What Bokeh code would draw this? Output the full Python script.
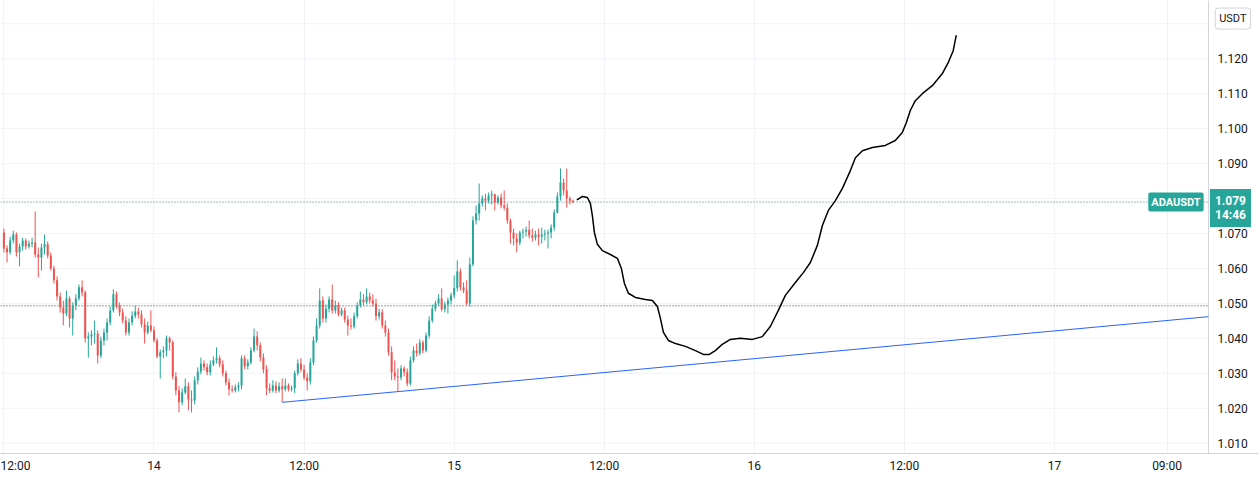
from bokeh.plotting import figure
from bokeh.models import Range1d, FixedTicker, Label, NumeralTickFormatter, ColumnDataSource
from bokeh.embed import file_html
from bokeh.resources import INLINE

# ---------------- data (15-minute candles, hours since the 14th 00:00) ----------------
first_open = 1.0703
start_hour = -12.0
bar_hours = 0.25

close = [
    1.0657, 1.0646, 1.0680, 1.0697, 1.0646, 1.0663, 1.0680, 1.0663, 1.0671, 1.0674,
    1.0640, 1.0631, 1.0660, 1.0669, 1.0637, 1.0600, 1.0566, 1.0520, 1.0488, 1.0471,
    1.0514, 1.0457, 1.0494, 1.0514, 1.0546, 1.0531, 1.0400, 1.0405, 1.0411, 1.0414,
    1.0351, 1.0394, 1.0417, 1.0445, 1.0480, 1.0526, 1.0494, 1.0474, 1.0451, 1.0417,
    1.0445, 1.0465, 1.0477, 1.0468, 1.0440, 1.0417, 1.0437, 1.0423, 1.0394, 1.0348,
    1.0360, 1.0365, 1.0400, 1.0388, 1.0291, 1.0251, 1.0217, 1.0245, 1.0263, 1.0225,
    1.0222, 1.0280, 1.0305, 1.0328, 1.0317, 1.0303, 1.0325, 1.0337, 1.0343, 1.0325,
    1.0300, 1.0274, 1.0254, 1.0251, 1.0260, 1.0265, 1.0343, 1.0320, 1.0331, 1.0365,
    1.0405, 1.0380, 1.0345, 1.0311, 1.0257, 1.0251, 1.0265, 1.0251, 1.0263, 1.0254,
    1.0265, 1.0254, 1.0257, 1.0300, 1.0328, 1.0311, 1.0288, 1.0277, 1.0331, 1.0394,
    1.0437, 1.0508, 1.0457, 1.0485, 1.0511, 1.0480, 1.0494, 1.0468, 1.0480, 1.0454,
    1.0437, 1.0434, 1.0463, 1.0494, 1.0511, 1.0503, 1.0520, 1.0508, 1.0500, 1.0463,
    1.0474, 1.0437, 1.0417, 1.0360, 1.0303, 1.0291, 1.0288, 1.0314, 1.0303, 1.0271,
    1.0337, 1.0365, 1.0357, 1.0388, 1.0365, 1.0408, 1.0451, 1.0485, 1.0500, 1.0514,
    1.0483, 1.0497, 1.0508, 1.0523, 1.0543, 1.0591, 1.0546, 1.0537, 1.0500, 1.0611,
    1.0737, 1.0757, 1.0786, 1.0800, 1.0794, 1.0809, 1.0812, 1.0789, 1.0803, 1.0780,
    1.0774, 1.0737, 1.0703, 1.0686, 1.0674, 1.0703, 1.0706, 1.0711, 1.0694, 1.0688,
    1.0697, 1.0691, 1.0697, 1.0700, 1.0703, 1.0717, 1.0760, 1.0806, 1.0846, 1.0823,
    1.0800, 1.0794, 1.0790,
]
high = [
    1.0714, 1.0666, 1.0691, 1.0708, 1.0703, 1.0671, 1.0688, 1.0686, 1.0680, 1.0688,
    1.0763, 1.0660, 1.0671, 1.0697, 1.0677, 1.0646, 1.0608, 1.0577, 1.0531, 1.0508,
    1.0537, 1.0520, 1.0503, 1.0526, 1.0554, 1.0566, 1.0537, 1.0417, 1.0423, 1.0451,
    1.0423, 1.0405, 1.0428, 1.0457, 1.0491, 1.0540, 1.0534, 1.0503, 1.0485, 1.0463,
    1.0457, 1.0477, 1.0494, 1.0488, 1.0480, 1.0457, 1.0448, 1.0480, 1.0434, 1.0400,
    1.0368, 1.0377, 1.0408, 1.0405, 1.0394, 1.0303, 1.0263, 1.0257, 1.0285, 1.0274,
    1.0251, 1.0291, 1.0317, 1.0345, 1.0337, 1.0328, 1.0337, 1.0348, 1.0374, 1.0351,
    1.0337, 1.0308, 1.0285, 1.0265, 1.0268, 1.0274, 1.0351, 1.0351, 1.0340, 1.0374,
    1.0428, 1.0420, 1.0388, 1.0357, 1.0323, 1.0271, 1.0280, 1.0277, 1.0274, 1.0285,
    1.0285, 1.0271, 1.0265, 1.0308, 1.0340, 1.0343, 1.0325, 1.0300, 1.0343, 1.0405,
    1.0457, 1.0543, 1.0520, 1.0497, 1.0520, 1.0554, 1.0508, 1.0503, 1.0488, 1.0488,
    1.0465, 1.0457, 1.0474, 1.0503, 1.0534, 1.0526, 1.0543, 1.0531, 1.0526, 1.0514,
    1.0485, 1.0483, 1.0451, 1.0428, 1.0377, 1.0337, 1.0314, 1.0323, 1.0320, 1.0314,
    1.0348, 1.0377, 1.0385, 1.0397, 1.0394, 1.0417, 1.0463, 1.0497, 1.0508, 1.0526,
    1.0543, 1.0505, 1.0517, 1.0531, 1.0580, 1.0623, 1.0600, 1.0560, 1.0566, 1.0631,
    1.0749, 1.0780, 1.0843, 1.0809, 1.0814, 1.0817, 1.0823, 1.0814, 1.0809, 1.0814,
    1.0823, 1.0786, 1.0743, 1.0714, 1.0700, 1.0708, 1.0714, 1.0720, 1.0737, 1.0714,
    1.0708, 1.0714, 1.0717, 1.0711, 1.0711, 1.0726, 1.0769, 1.0817, 1.0886, 1.0857,
    1.0886, 1.0806, 1.0797,
]
low = [
    1.0646, 1.0617, 1.0640, 1.0671, 1.0634, 1.0606, 1.0651, 1.0654, 1.0657, 1.0660,
    1.0631, 1.0574, 1.0594, 1.0640, 1.0629, 1.0594, 1.0557, 1.0508, 1.0474, 1.0437,
    1.0463, 1.0431, 1.0408, 1.0480, 1.0508, 1.0520, 1.0388, 1.0345, 1.0380, 1.0385,
    1.0328, 1.0343, 1.0380, 1.0394, 1.0437, 1.0474, 1.0485, 1.0463, 1.0443, 1.0408,
    1.0408, 1.0437, 1.0457, 1.0457, 1.0431, 1.0385, 1.0411, 1.0417, 1.0388, 1.0343,
    1.0285, 1.0343, 1.0348, 1.0365, 1.0283, 1.0237, 1.0188, 1.0208, 1.0240, 1.0194,
    1.0188, 1.0211, 1.0268, 1.0297, 1.0308, 1.0294, 1.0294, 1.0320, 1.0328, 1.0317,
    1.0291, 1.0265, 1.0237, 1.0245, 1.0245, 1.0248, 1.0254, 1.0311, 1.0311, 1.0325,
    1.0360, 1.0365, 1.0334, 1.0300, 1.0237, 1.0243, 1.0245, 1.0243, 1.0245, 1.0217,
    1.0248, 1.0248, 1.0248, 1.0243, 1.0294, 1.0303, 1.0280, 1.0251, 1.0268, 1.0323,
    1.0388, 1.0428, 1.0445, 1.0445, 1.0474, 1.0471, 1.0471, 1.0463, 1.0463, 1.0445,
    1.0408, 1.0425, 1.0428, 1.0457, 1.0488, 1.0494, 1.0497, 1.0500, 1.0491, 1.0451,
    1.0454, 1.0428, 1.0405, 1.0351, 1.0280, 1.0280, 1.0248, 1.0280, 1.0291, 1.0263,
    1.0265, 1.0331, 1.0348, 1.0351, 1.0357, 1.0360, 1.0400, 1.0445, 1.0477, 1.0494,
    1.0477, 1.0474, 1.0471, 1.0497, 1.0514, 1.0534, 1.0537, 1.0529, 1.0494, 1.0491,
    1.0606, 1.0726, 1.0737, 1.0777, 1.0766, 1.0786, 1.0783, 1.0766, 1.0783, 1.0772,
    1.0766, 1.0728, 1.0671, 1.0666, 1.0646, 1.0666, 1.0686, 1.0691, 1.0686, 1.0677,
    1.0680, 1.0666, 1.0671, 1.0680, 1.0657, 1.0686, 1.0708, 1.0757, 1.0794, 1.0809,
    1.0774, 1.0783, 1.0786,
]

# hand-drawn projection path
path_hours = [33.85, 34.25, 34.65, 34.89, 35.05, 35.21, 35.45, 35.85, 36.49, 37.05,
              37.37, 37.61, 37.93, 38.49, 39.29, 39.85, 40.25, 40.49, 40.73, 41.13,
              41.69, 42.49, 43.29, 43.92, 44.40, 44.88, 45.44, 46.08, 46.88, 47.84,
              48.64, 49.28, 49.92, 50.48, 51.28, 51.92, 52.48, 53.04, 53.44, 53.92,
              54.48, 55.04, 55.68, 56.08, 56.64, 57.44, 58.47, 59.27, 59.83, 60.15,
              60.47, 60.87, 61.43, 62.23, 63.02, 63.50, 63.90, 64.14]
path_prices = [1.0797, 1.0806, 1.0803, 1.0786, 1.0751, 1.0703, 1.0669, 1.0651, 1.0640, 1.0629,
               1.0600, 1.0557, 1.0529, 1.0517, 1.0511, 1.0508, 1.0491, 1.0457, 1.0417, 1.0394,
               1.0385, 1.0377, 1.0365, 1.0354, 1.0354, 1.0365, 1.0383, 1.0397, 1.0400, 1.0397,
               1.0405, 1.0434, 1.0480, 1.0523, 1.0560, 1.0588, 1.0617, 1.0666, 1.0723, 1.0766,
               1.0794, 1.0829, 1.0880, 1.0917, 1.0937, 1.0946, 1.0952, 1.0966, 1.0989, 1.1017,
               1.1052, 1.1080, 1.1100, 1.1123, 1.1157, 1.1189, 1.1223, 1.1266]

# trend line
trend_hours = [10.25, 84.3]
trend_prices = [1.0217, 1.0462]

# horizontal level
level_price = 1.0493

# axes
x_ticks = [-12, 0, 12, 24, 36, 48, 60, 72, 81]
x_labels = ["12:00", "14", "12:00", "15", "12:00", "16", "12:00", "17", "09:00"]
y_ticks = [1.01, 1.02, 1.03, 1.04, 1.05, 1.06, 1.07, 1.08, 1.09, 1.10, 1.11, 1.12, 1.13]

symbol = "ADAUSDT"
currency = "USDT"
countdown = "14:46"

# ---------------- build ----------------
UP = "#26a69a"
DOWN = "#ef5350"
TEXT = "#131722"
GRID = "#f0f3fa"
FONT = "Roboto"

n = len(close)
hours = [start_hour + bar_hours * i for i in range(n)]
opens = [first_open] + close[:-1]
colors = [UP if c >= o else DOWN for o, c in zip(opens, close)]
src = ColumnDataSource(dict(
    x=hours, o=opens, c=close, h=high, l=low,
    top=[max(o, c) for o, c in zip(opens, close)],
    bot=[min(o, c) for o, c in zip(opens, close)],
    color=colors,
))

# chart pane spans x_start..pane_end; the price scale occupies pane_end..x_end
x_start, pane_end, x_end = -12.273, 84.31, 88.31
y_start, y_end = 1.00705, 1.13667

p = figure(width=1260, height=479, output_backend="svg", toolbar_location=None,
           x_range=Range1d(x_start, x_end), y_range=Range1d(y_start, y_end),
           y_axis_location="right",
           min_border_left=0, min_border_top=0, min_border_right=2, min_border_bottom=26,
           background_fill_color="white", border_fill_color="white",
           outline_line_color=None)

# grid: vertical via the grid model, horizontal stops at the price scale
p.xgrid.ticker = FixedTicker(ticks=x_ticks)
p.xgrid.grid_line_color = GRID
p.ygrid.grid_line_color = None
p.segment(x0=[x_start] * len(y_ticks), x1=[pane_end] * len(y_ticks), y0=y_ticks, y1=y_ticks,
          line_color=GRID, line_width=1)
# price scale separator
p.segment(x0=[pane_end], x1=[pane_end], y0=[y_start], y1=[y_end],
          line_color="#d1d4dc", line_width=1)

# axes
p.xaxis.ticker = FixedTicker(ticks=x_ticks)
p.xaxis.major_label_overrides = {t: l for t, l in zip(x_ticks, x_labels)}
p.yaxis.ticker = FixedTicker(ticks=y_ticks)
p.yaxis.formatter = NumeralTickFormatter(format="0.000")
for ax in (p.xaxis, p.yaxis):
    ax.major_tick_line_color = None
    ax.minor_tick_line_color = None
    ax.major_tick_out = 0
    ax.major_tick_in = 0
    ax.minor_tick_out = 0
    ax.minor_tick_in = 0
    ax.major_label_text_font = FONT
    ax.major_label_text_font_size = "12px"
    ax.major_label_text_color = TEXT
p.xaxis.axis_line_color = "#d1d4dc"
p.yaxis.axis_line_color = None
p.xaxis.major_label_standoff = 5
p.yaxis.major_label_standoff = -41

# dotted levels
p.segment(x0=[x_start], x1=[pane_end], y0=[close[-1]], y1=[close[-1]],
          line_color="#3f7f78", line_dash="1 2", line_width=1)
p.segment(x0=[x_start], x1=[pane_end], y0=[level_price], y1=[level_price],
          line_color="#363a45", line_dash="1 2", line_width=1)

# candles
p.segment(x0="x", y0="h", x1="x", y1="l", color="color", line_width=1, source=src)
p.vbar(x="x", width=0.16, top="top", bottom="bot", fill_color="color",
       line_color=None, source=src)

# trend line and projection
p.line(trend_hours, trend_prices, line_color="#2962ff", line_width=1)
p.line(path_hours, path_prices, line_color="#000000", line_width=1.5,
       line_join="round", line_cap="round")

# labels
p.add_layout(Label(x=pane_end - 2.6, y=close[-1], text=symbol, text_align="center",
                   text_baseline="middle", text_color="white", text_font=FONT,
                   text_font_style="bold", text_font_size="11px",
                   background_fill_color=UP, padding=3, border_radius=2))
p.add_layout(Label(x=pane_end + 1.76, y=close[-1] - 0.0017, text=f"{close[-1]:.3f}\n{countdown}",
                   text_align="center", text_baseline="middle", text_color="white",
                   text_font=FONT, text_font_style="bold", text_font_size="12px",
                   text_line_height=1.0,
                   background_fill_color=UP, padding=5))
p.add_layout(Label(x=pane_end + 1.95, y=1.1315, text=currency, text_align="center",
                   text_baseline="middle", text_color=TEXT, text_font=FONT,
                   text_font_size="11px", background_fill_color="white",
                   border_line_color="#d1d4dc", border_radius=3, padding=4))

open("out.html", "w").write(file_html(p, INLINE))
